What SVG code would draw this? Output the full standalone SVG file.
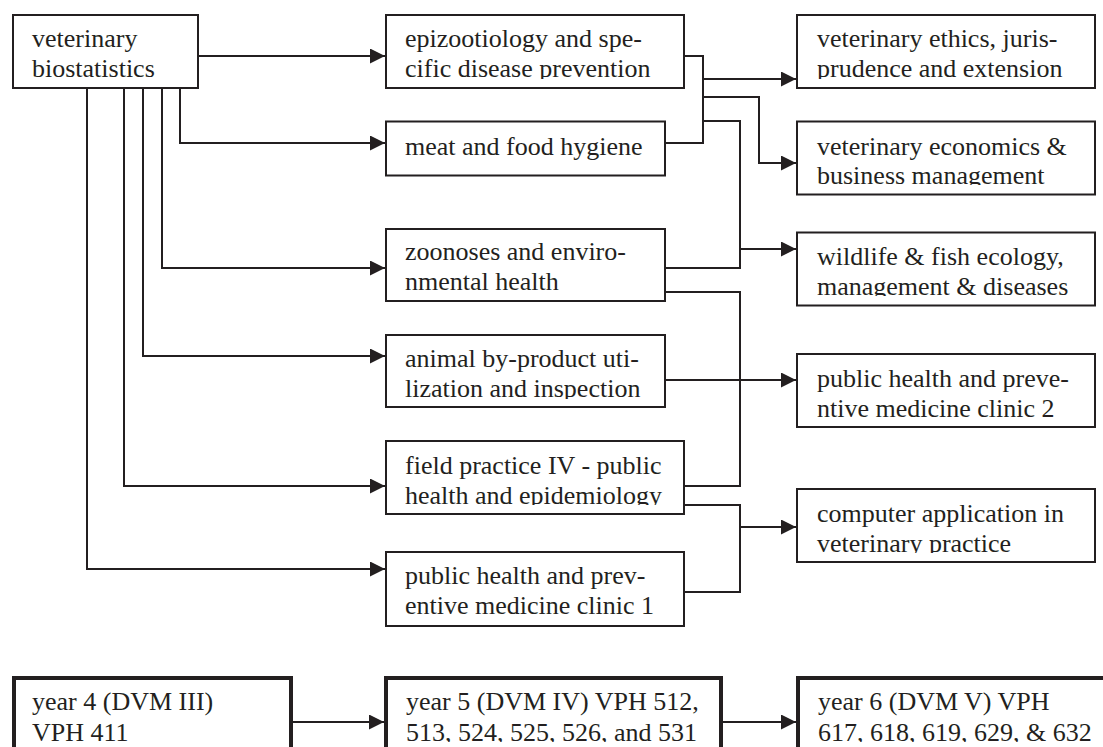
<svg xmlns="http://www.w3.org/2000/svg" width="1103" height="747" viewBox="0 0 1103 747">
<style>
.box{fill:#fff;stroke:#231f20;stroke-width:2}
.tbox{fill:#fff;stroke:#231f20;stroke-width:4}
.t{font-family:"Liberation Serif","Times New Roman",serif;font-size:26px;fill:#231f20}
.c{fill:none;stroke:#231f20;stroke-width:2}
.a{marker-end:url(#arr)}
</style>
<defs>
<marker id="arr" viewBox="0 0 15 15" refX="15" refY="7.5" markerWidth="15" markerHeight="15" markerUnits="userSpaceOnUse" orient="auto"><path d="M0,0 L15,7.5 L0,15 z" fill="#231f20"/></marker>
<clipPath id="cB" clipPathUnits="userSpaceOnUse"><rect x="386" y="15" width="298" height="64"/></clipPath>
<clipPath id="cE" clipPathUnits="userSpaceOnUse"><rect x="386" y="335" width="279" height="64"/></clipPath>
<clipPath id="cF" clipPathUnits="userSpaceOnUse"><rect x="386" y="441" width="298" height="64"/></clipPath>
<clipPath id="cH" clipPathUnits="userSpaceOnUse"><rect x="797" y="15" width="298" height="64"/></clipPath>
<clipPath id="cI" clipPathUnits="userSpaceOnUse"><rect x="797" y="121" width="298" height="64"/></clipPath>
<clipPath id="cJ" clipPathUnits="userSpaceOnUse"><rect x="797" y="232" width="298" height="64"/></clipPath>
<clipPath id="cL" clipPathUnits="userSpaceOnUse"><rect x="797" y="489" width="298" height="64"/></clipPath>
<clipPath id="cY" clipPathUnits="userSpaceOnUse"><rect x="0" y="680" width="1103" height="62"/></clipPath>
</defs>
<g id="connectors">
<path class="c a" d="M199,56 H385"/>
<path class="c a" d="M180,89 V143 H385"/>
<path class="c a" d="M162,89 V268 H385"/>
<path class="c a" d="M143,89 V356 H385"/>
<path class="c a" d="M124,89 V486 H385"/>
<path class="c a" d="M87,89 V569 H385"/>
<path class="c" d="M685,56 H703 V143 H666"/>
<path class="c a" d="M703,79 H796"/>
<path class="c a" d="M703,97 H759 V163 H796"/>
<path class="c" d="M703,121 H740 V268 H666"/>
<path class="c a" d="M740,249 H796"/>
<path class="c" d="M666,292 H740 V486 H685"/>
<path class="c a" d="M666,380 H796"/>
<path class="c" d="M685,505 H740 V592 H685"/>
<path class="c a" d="M740,527 H796"/>
<path class="c a" d="M293,722 H384"/>
<path class="c a" d="M723,722 H796"/>
</g>
<g id="n-biostat"><rect class="box" x="13" y="15" width="185" height="73"/><text class="t" x="32" y="47">veterinary</text><text class="t" x="32" y="77">biostatistics</text></g>
<g id="n-epizoo"><rect class="box" x="386" y="15" width="298" height="73"/><g clip-path="url(#cB)"><text class="t" x="405" y="47">epizootiology and spe-</text><text class="t" x="405" y="77">cific disease prevention</text></g></g>
<g id="n-meat"><rect class="box" x="386" y="121.5" width="279" height="54"/><text class="t" x="405" y="155">meat and food hygiene</text></g>
<g id="n-zoonoses"><rect class="box" x="386" y="229" width="279" height="72"/><text class="t" x="405" y="260">zoonoses and enviro-</text><text class="t" x="405" y="290">nmental health</text></g>
<g id="n-byproduct"><rect class="box" x="386" y="335" width="279" height="72"/><g clip-path="url(#cE)"><text class="t" x="405" y="367">animal by-product uti-</text><text class="t" x="405" y="397">lization and inspection</text></g></g>
<g id="n-field"><rect class="box" x="386" y="441" width="298" height="73"/><g clip-path="url(#cF)"><text class="t" x="405" y="474">field practice IV - public</text><text class="t" x="405" y="504">health and epidemiology</text></g></g>
<g id="n-clinic1"><rect class="box" x="386" y="552" width="298" height="74"/><text class="t" x="405" y="584">public health and prev-</text><text class="t" x="405" y="614">entive medicine clinic 1</text></g>
<g id="n-ethics"><rect class="box" x="797" y="15" width="298" height="73"/><g clip-path="url(#cH)"><text class="t" x="817" y="47">veterinary ethics, juris-</text><text class="t" x="817" y="77">prudence and extension</text></g></g>
<g id="n-economics"><rect class="box" x="797" y="121.5" width="298" height="73"/><g clip-path="url(#cI)"><text class="t" x="817" y="155">veterinary economics &amp;</text><text class="t" x="817" y="184">business management</text></g></g>
<g id="n-wildlife"><rect class="box" x="797" y="232.5" width="298" height="73"/><g clip-path="url(#cJ)"><text class="t" x="817" y="265">wildlife &amp; fish ecology,</text><text class="t" x="817" y="295">management &amp; diseases</text></g></g>
<g id="n-clinic2"><rect class="box" x="797" y="354" width="298" height="73"/><text class="t" x="817" y="387">public health and preve-</text><text class="t" x="817" y="417">ntive medicine clinic 2</text></g>
<g id="n-computer"><rect class="box" x="797" y="489" width="298" height="73"/><g clip-path="url(#cL)"><text class="t" x="817" y="522">computer application in</text><text class="t" x="817" y="552">veterinary practice</text></g></g>
<g id="n-year4"><rect class="tbox" x="14" y="678" width="277" height="100"/><g clip-path="url(#cY)"><text class="t" x="32" y="710">year 4 (DVM III)</text><text class="t" x="32" y="741">VPH 411</text></g></g>
<g id="n-year5"><rect class="tbox" x="386" y="678" width="335" height="100"/><g clip-path="url(#cY)"><text class="t" x="406" y="710">year 5 (DVM IV) VPH 512,</text><text class="t" x="406" y="741">513, 524, 525, 526, and 531</text></g></g>
<g id="n-year6"><rect class="tbox" x="798" y="678" width="330" height="100"/><g clip-path="url(#cY)"><text class="t" x="818" y="710">year 6 (DVM V) VPH</text><text class="t" x="818" y="741">617, 618, 619, 629, &amp; 632</text></g></g>
</svg>
